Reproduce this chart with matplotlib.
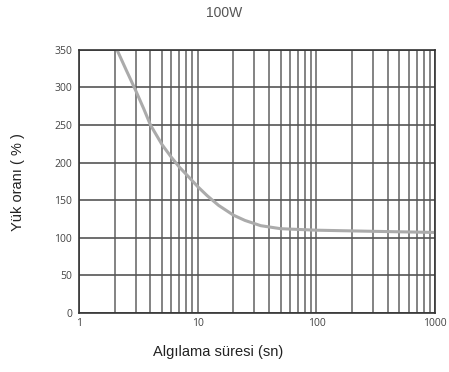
import numpy as np
from matplotlib import pyplot as plt
from matplotlib.ticker import FixedLocator, NullFormatter

# Curve
time_s = [2.09, 2.5, 3.0, 3.5, 4.0, 5.0, 6.0, 7.0, 8.5, 10, 12, 15, 20, 25, 34, 50, 100, 300, 1000]
load_pct = [350, 323, 296, 272, 250, 224, 207, 194, 180, 168, 156, 143, 130, 123, 116, 112, 110, 108.5, 107]

y_ticks = [0, 50, 100, 150, 200, 250, 300, 350]
x_ticks = [1, 10, 100, 1000]
x_labels = ["1", "10", "100", "1000"]

fig = plt.figure(figsize=(4.49, 3.72), dpi=100)
ax = fig.add_axes([0.176, 0.159, 0.793, 0.707])

ax.set_xscale("log")
ax.set_xlim(1, 1000)
ax.set_ylim(0, 350)

# grid at every 1..9 x decade
minor = [m * 10**d for d in range(3) for m in range(2, 10)]
ax.xaxis.set_major_locator(FixedLocator(x_ticks))
ax.xaxis.set_minor_locator(FixedLocator(minor))
ax.xaxis.set_minor_formatter(NullFormatter())
ax.set_xticklabels(x_labels, family="Open Sans")
ax.set_yticks(y_ticks)
ax.set_yticklabels([str(v) for v in y_ticks], family="Open Sans")

ax.grid(True, which="both", axis="x", color="#6e6e6e", lw=1.2)
ax.grid(True, which="major", axis="y", color="#555555", lw=1.2)
ax.set_axisbelow(True)

ax.plot(time_s, load_pct, color="#ababab", lw=2.2, solid_capstyle="butt")

for s in ax.spines.values():
    s.set_color("#333333")
    s.set_linewidth(1.2)

ax.tick_params(which="both", length=0, labelsize=7.5, labelcolor="#444444")
ax.tick_params(axis="x", pad=4)
ax.tick_params(axis="y", pad=5)

fig.text(0.5, 0.965, "100W", ha="center", va="center", fontsize=10,
         color="#555555", family="Liberation Sans")
fig.text(0.485, 0.053, "Algılama süresi (sn)", ha="center", va="center",
         fontsize=10.5, color="#222222", family="Liberation Sans")
fig.text(0.04, 0.51, "Yük oranı ( % )", ha="center", va="center",
         rotation=90, fontsize=10.5, color="#222222", family="Liberation Sans")

fig.savefig("out.png", dpi=100)
